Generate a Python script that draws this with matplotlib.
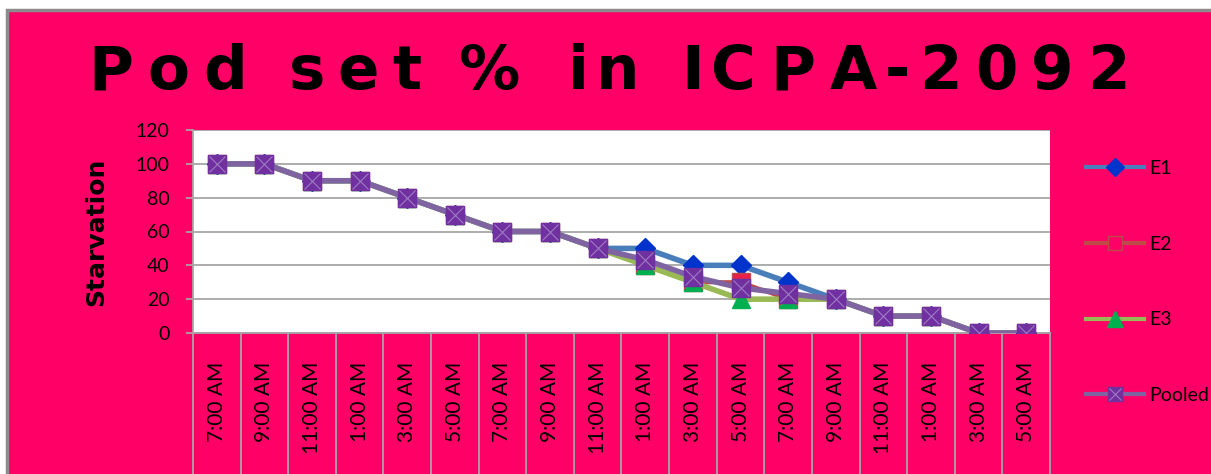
import matplotlib
matplotlib.use("Agg")
import matplotlib.pyplot as plt
import matplotlib.transforms as mtransforms
from matplotlib.patches import Rectangle
from matplotlib.legend_handler import HandlerTuple
from matplotlib.lines import Line2D

categories = ["7:00 AM", "9:00 AM", "11:00 AM", "1:00 AM", "3:00 AM", "5:00 AM",
              "7:00 AM", "9:00 AM", "11:00 AM", "1:00 AM", "3:00 AM", "5:00 AM",
              "7:00 AM", "9:00 AM", "11:00 AM", "1:00 AM", "3:00 AM", "5:00 AM"]
e1 = [100, 100, 90, 90, 80, 70, 60, 60, 50, 50, 40, 40, 30, 20, 10, 10, 0, 0]
e2 = [100, 100, 90, 90, 80, 70, 60, 60, 50, 40, 30, 30, 20, 20, 10, 10, 0, 0]
e3 = [100, 100, 90, 90, 80, 70, 60, 60, 50, 40, 30, 20, 20, 20, 10, 10, 0, 0]
pooled = [100, 100, 90, 90, 80, 70, 60, 60, 50, 43.3, 33.3, 26.7, 23.3, 20, 10, 10, 0, 0]
yticks = [0, 20, 40, 60, 80, 100, 120]
title = "Pod set % in ICPA-2092"

PINK = "#FF0066"
SANS = ["Lato", "Liberation Sans", "DejaVu Sans"]
W, H = 1211, 474
fig = plt.figure(figsize=(W / 100, H / 100), dpi=100, facecolor="white")

# pink chart area with gray border
fig.patches.append(Rectangle((7 / W, -0.01), 1.02, (H - 10) / H + 0.01,
                             transform=fig.transFigure, facecolor=PINK,
                             edgecolor="#8C8C8C", linewidth=2.5, zorder=-10))

ax = fig.add_axes([193 / W, 1 - 333 / H, (1050 - 193) / W, (333 - 130) / H])
ax.set_facecolor("white")
x = list(range(len(categories)))

ax.plot(x, e1, color="#4A7EBB", lw=4, marker="D", ms=10, mfc="#0033CC",
        mec="#0033CC", zorder=3, solid_capstyle="round")
ax.plot(x, e2, color="#BE4B48", lw=3, marker="s", ms=13, mfc="#E8204A",
        mec="#BE4B48", zorder=4)
ax.plot(x, e3, color="#98B954", lw=4, marker="^", ms=13, mfc="#00B050",
        mec="#00B050", zorder=5)
ax.plot(x, pooled, color="#8064A2", lw=4, marker="s", ms=13, mfc="#7030A0",
        mec="#7030A0", zorder=6)
ax.plot(x, pooled, ls="none", marker="x", ms=12, mew=0.8, color="#9D7BC4", zorder=7)

ax.set_xlim(-0.5, len(categories) - 0.5)
ax.set_ylim(0, 120)
ax.set_yticks(yticks)
ax.set_yticklabels([str(v) for v in yticks], family=SANS, fontsize=14)
ax.grid(axis="y", color="#A6A6A6", lw=1.3)
ax.set_axisbelow(True)
ax.tick_params(axis="y", length=5, color="#A6A6A6", width=1.3, pad=12, direction="out")
ax.set_xticks([])
for s in ["top", "right"]:
    ax.spines[s].set_visible(False)
for s in ["left", "bottom"]:
    ax.spines[s].set_color("#A6A6A6")
    ax.spines[s].set_linewidth(1.3)

trans = mtransforms.blended_transform_factory(ax.transData, ax.transAxes)
bottom_axes = -(H - 333) / (333 - 130) - 0.05
for k in range(len(categories) + 1):
    ax.plot([k - 0.5, k - 0.5], [0, bottom_axes], transform=trans, color="#A6A6A6",
            lw=1.3, clip_on=False, zorder=1)
label_y = -(362 - 333) / (333 - 130)
for i, lab in enumerate(categories):
    ax.text(i, label_y, lab, transform=trans, rotation=90, ha="center", va="top",
            family=SANS, fontsize=15, color="black")

ax.set_ylabel("Starvation", fontsize=18, fontweight="bold", family="DejaVu Sans")
ax.yaxis.set_label_coords(-(193 - 108) / (1050 - 193), 0.5)

# title: letter-spaced to mimic the stretched original
renderer = fig.canvas.get_renderer()
tprops = dict(fontsize=44, fontweight="bold", family="DejaVu Sans", color="black")


def text_width(s):
    if not s:
        return 0.0
    t = fig.text(0, 0, s, **tprops)
    w = t.get_window_extent(renderer).width
    t.remove()
    return w


x0, x1 = 88, 1130
natural = text_width(title)
last_w = text_width(title[-1])
scale = (x1 - x0 - last_w) / (natural - last_w)
for i, ch in enumerate(title):
    if ch == " ":
        continue
    left = x0 + scale * text_width(title[:i])
    fig.text(left / W, 1 - 66 / H, ch, ha="left", va="center_baseline", **tprops)

# legend
h1 = Line2D([], [], color="#4A7EBB", lw=3, marker="D", ms=9, mfc="#0033CC", mec="#0033CC")
h2 = Line2D([], [], color="#BE4B48", lw=3, marker="s", ms=10, mfc=PINK, mec="#BE4B48")
h3 = Line2D([], [], color="#98B954", lw=3, marker="^", ms=11, mfc="#00B050", mec="#00B050")
h4a = Line2D([], [], color="#8064A2", lw=3, marker="s", ms=10, mfc="#7030A0", mec="#7030A0")
h4b = Line2D([], [], ls="none", marker="x", ms=9, mew=0.8, color="#9D7BC4")
leg = fig.legend([h1, h2, h3, (h4a, h4b)], ["E1", "E2", "E3", "Pooled"],
                 handler_map={tuple: HandlerTuple(ndivide=1, pad=0)},
                 loc="upper left", bbox_to_anchor=(1086 / W, 1 - 160 / H),
                 frameon=False, labelspacing=3.02, handlelength=3.0, handletextpad=0.25,
                 borderaxespad=0, borderpad=0,
                 prop={"family": SANS, "size": 14})

fig.savefig("out.png", dpi=100, facecolor="white")
